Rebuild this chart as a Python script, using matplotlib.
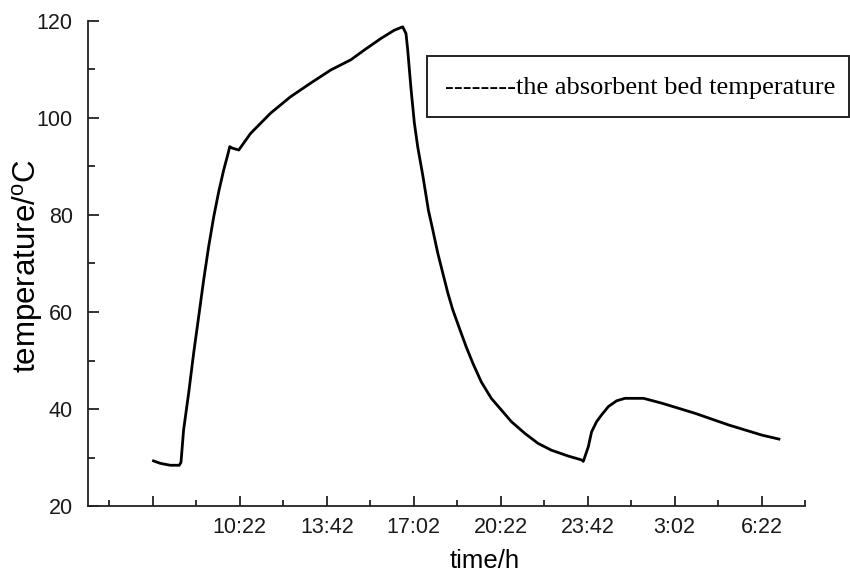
import matplotlib
matplotlib.use("Agg")
import matplotlib.pyplot as plt
from matplotlib.ticker import FixedLocator
from matplotlib.patches import Rectangle

plt.rcParams["font.family"] = ["Liberation Sans", "DejaVu Sans"]
plt.rcParams["mathtext.fontset"] = "custom"
plt.rcParams["mathtext.rm"] = "Liberation Sans"

# Absorbent bed temperature record (hours counted from midnight of day 1)
time_h = [7.056, 7.314, 7.699, 8.045, 8.110, 8.210, 8.402, 8.595, 8.787, 8.979,
          9.171, 9.364, 9.556, 9.748, 9.902, 9.979, 10.071, 10.325, 10.775,
          11.160, 11.545, 12.314, 13.083, 13.852, 14.621, 15.133, 15.775,
          16.287, 16.610, 16.737, 16.802, 16.929, 17.056, 17.187, 17.379,
          17.595, 17.764, 17.956, 18.148, 18.341, 18.533, 18.787, 19.045,
          19.302, 19.621, 20.006, 20.391, 20.775, 21.287, 21.802, 22.314,
          22.956, 23.468, 23.533, 23.725, 23.852, 24.045, 24.237, 24.495,
          24.814, 25.133, 25.841, 26.545, 27.825, 29.110, 30.391, 31.033]
temp_c = [29.3, 28.8, 28.4, 28.4, 29.0, 35.7, 43.2, 51.5, 59.0, 66.6,
          73.5, 79.6, 84.8, 89.3, 92.4, 94.1, 93.8, 93.4, 96.8,
          98.9, 101.0, 104.4, 107.2, 109.9, 112.0, 114.0, 116.4,
          118.1, 118.8, 117.4, 114.0, 106.0, 99.0, 94.0, 88.2,
          81.0, 76.9, 72.1, 68.0, 63.9, 60.4, 56.6, 52.8,
          49.4, 45.6, 42.2, 39.8, 37.4, 35.0, 32.9, 31.5,
          30.3, 29.5, 29.2, 32.2, 35.3, 37.4, 38.8, 40.5,
          41.7, 42.2, 42.2, 41.2, 39.1, 36.7, 34.6, 33.8]

major_ticks_h = [7.033, 10.367, 13.700, 17.033, 20.367, 23.700, 27.033, 30.367]
major_labels = ["", "10:22", "13:42", "17:02", "20:22", "23:42", "3:02", "6:22"]
minor_ticks_h = [5.367, 8.700, 12.033, 15.367, 18.700, 22.033, 25.367, 28.700, 32.033]
y_major = [20, 40, 60, 80, 100, 120]
y_minor = [30, 50, 70, 90, 110]

W, H = 850, 573
fig = plt.figure(figsize=(W / 100, H / 100), dpi=100)
ax = fig.add_axes([88 / W, 1 - 506 / H, (805 - 88) / W, (506 - 21) / H])

ax.plot(time_h, temp_c, color="black", lw=2.0, solid_joinstyle="round")

ax.set_xlim(4.545, 32.033)
ax.set_ylim(20, 120)

for side in ("top", "right"):
    ax.spines[side].set_visible(False)
for side in ("left", "bottom"):
    ax.spines[side].set_linewidth(1.3)
    ax.spines[side].set_color("#222222")

ax.xaxis.set_major_locator(FixedLocator(major_ticks_h))
ax.xaxis.set_minor_locator(FixedLocator(minor_ticks_h))
ax.set_xticklabels(major_labels)
ax.yaxis.set_major_locator(FixedLocator(y_major))
ax.yaxis.set_minor_locator(FixedLocator(y_minor))

ax.tick_params(axis="x", which="major", direction="in", length=7, width=1.3,
               color="#222222", labelsize=15.5, pad=8, labelcolor="#1a1a1a")
ax.tick_params(axis="x", which="minor", direction="in", length=4, width=1.3,
               color="#222222")
ax.tick_params(axis="y", which="major", direction="in", length=8, width=1.3,
               color="#222222", labelsize=15.5, pad=11, labelcolor="#1a1a1a")
ax.tick_params(axis="y", which="minor", direction="in", length=5, width=1.3,
               color="#222222")

fig.text(28 / W, 1 - 266 / H, r"temperature/$^{\rm o}$C", rotation=90,
         fontsize=22.5, ha="center", va="center", color="black")
fig.text(485 / W, 1 - 561 / H, "time/h", fontsize=18.5, ha="center",
         va="center", color="black")

# legend box drawn in figure coordinates
fig.patches.append(Rectangle((427 / W, 1 - 117 / H), (849 - 427) / W, 61 / H,
                             transform=fig.transFigure, fill=False,
                             edgecolor="#222222", lw=1.4))
fig.text(445 / W, 1 - 88 / H, "--------the absorbent bed temperature",
         fontsize=19, family=["Liberation Serif", "DejaVu Serif"],
         ha="left", va="center", color="black")

fig.savefig("out.png", dpi=100)
